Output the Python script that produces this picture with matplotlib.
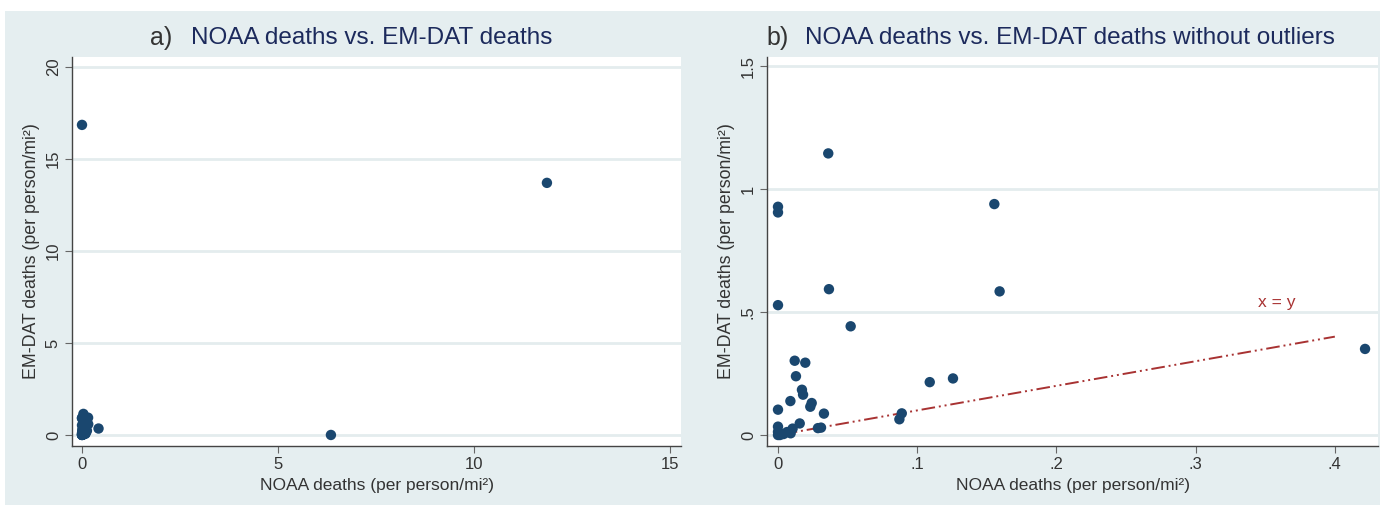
import matplotlib.pyplot as plt
from matplotlib.patches import Rectangle
import numpy as np

# --------------------------------------------------
# DATA
# --------------------------------------------------

# counties without the outliers (panel b)
noaa_deaths = [0.0361, 0.0, 0.0, 0.1554, 0.0366, 0.1592, 0.0, 0.0522,
               0.0120, 0.0196, 0.0129, 0.1090, 0.1257, 0.0172, 0.0180,
               0.0089, 0.0242, 0.0232, 0.0, 0.0330, 0.0889, 0.0872,
               0.0156, 0.0287, 0.0309, 0.0105, 0.0091, 0.0, 0.0, 0.0014,
               0.0, 0.0040, 0.0065, 0.4217]
emdat_deaths = [1.145, 0.928, 0.905, 0.939, 0.593, 0.584, 0.528, 0.442,
                0.302, 0.294, 0.239, 0.215, 0.230, 0.184, 0.164,
                0.138, 0.130, 0.115, 0.103, 0.087, 0.088, 0.064,
                0.047, 0.028, 0.030, 0.026, 0.007, 0.034, 0.013, 0.0,
                0.0, 0.004, 0.012, 0.350]

# outliers, only shown in panel a
outlier_noaa = [0.0, 11.86, 6.35]
outlier_emdat = [16.85, 13.70, 0.0]

line_xy = [0.0, 0.4]

xticks_a = [0, 5, 10, 15]
xticklabels_a = ["0", "5", "10", "15"]
yticks_a = [0, 5, 10, 15, 20]
yticklabels_a = ["0", "5", "10", "15", "20"]

xticks_b = [0, 0.1, 0.2, 0.3, 0.4]
xticklabels_b = ["0", ".1", ".2", ".3", ".4"]
yticks_b = [0, 0.5, 1, 1.5]
yticklabels_b = ["0", ".5", "1", "1.5"]

# --------------------------------------------------
# STYLE
# --------------------------------------------------

plt.rcParams["font.family"] = ["Liberation Sans", "DejaVu Sans"]

BG = "#e5eef0"
GRID = "#e4ecee"
NAVY = "#1a476f"
TITLE = "#1c2a5c"
TEXT = "#333333"
RED = "#a83232"

fig = plt.figure(figsize=(13.84, 5.05), dpi=100)
fig.patch.set_facecolor("white")
fig.patches.append(Rectangle((5 / 1384, 0), 1375 / 1384, 494 / 505,
                             transform=fig.transFigure, facecolor=BG,
                             edgecolor="none", zorder=-10))

ax1 = fig.add_axes([72 / 1384, 59 / 505, 609 / 1384, 389 / 505])
ax2 = fig.add_axes([767 / 1384, 59 / 505, 611 / 1384, 389 / 505])


def style_axis(ax, xt, xtl, yt, ytl):
    ax.set_facecolor("white")
    for s in ["top", "right"]:
        ax.spines[s].set_visible(False)
    for s in ["left", "bottom"]:
        ax.spines[s].set_color("#444444")
        ax.spines[s].set_linewidth(1.0)
    ax.set_xticks(xt)
    ax.set_xticklabels(xtl)
    ax.set_yticks(yt)
    ax.set_yticklabels(ytl, rotation=90, va="center")
    ax.tick_params(axis="both", length=5, width=0.8, color="#666666",
                   labelsize=12, labelcolor=TEXT, pad=3)
    ax.yaxis.grid(True, color=GRID, linewidth=2.0)
    ax.set_axisbelow(True)
    ax.set_xlabel("NOAA deaths (per person/mi²)", fontsize=12.5,
                  color=TEXT, labelpad=4)
    ax.set_ylabel("EM-DAT deaths (per person/mi²)", fontsize=12.8,
                  color=TEXT, labelpad=4)


# --------------------------------------------------
# PANEL A
# --------------------------------------------------

all_noaa = np.concatenate([noaa_deaths, outlier_noaa])
all_emdat = np.concatenate([emdat_deaths, outlier_emdat])

ax1.scatter(all_noaa, all_emdat, s=56, color=NAVY, edgecolors="none",
            zorder=3)
ax1.set_xlim(-0.255, 15.28)
ax1.set_ylim(-0.6, 20.54)
style_axis(ax1, xticks_a, xticklabels_a, yticks_a, yticklabels_a)

# --------------------------------------------------
# PANEL B
# --------------------------------------------------

ax2.plot(line_xy, line_xy, color=RED, linewidth=1.4,
         linestyle=(0, (7, 2, 1, 2, 1, 2)), zorder=2)
ax2.scatter(noaa_deaths, emdat_deaths, s=56, color=NAVY,
            edgecolors="none", zorder=3)
ax2.text(0.3585, 0.537, "x = y", color=RED, fontsize=12.5,
         ha="center", va="center")
ax2.set_xlim(-0.0079, 0.431)
ax2.set_ylim(-0.0447, 1.537)
style_axis(ax2, xticks_b, xticklabels_b, yticks_b, yticklabels_b)

# --------------------------------------------------
# TITLES
# --------------------------------------------------

ty = (505 - 38) / 505
fig.text(150 / 1384, ty, "a)", fontsize=18, color=TEXT, va="center")
fig.text(191 / 1384, ty, "NOAA deaths vs. EM-DAT deaths", fontsize=17.5,
         color=TITLE, va="center")
fig.text(766 / 1384, ty, "b)", fontsize=18, color=TEXT, va="center")
fig.text(805 / 1384, ty, "NOAA deaths vs. EM-DAT deaths without outliers",
         fontsize=17.5, color=TITLE, va="center")

fig.savefig("out.png", dpi=100, facecolor=fig.get_facecolor())
plt.close(fig)
